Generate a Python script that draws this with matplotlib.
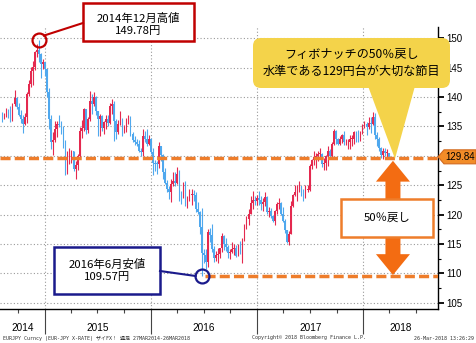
import pandas as pd
import matplotlib
matplotlib.use("Agg")
import matplotlib.pyplot as plt
import matplotlib.dates as mdates
from matplotlib.patches import Rectangle, Polygon, FancyBboxPatch, FancyArrowPatch, ArrowStyle

W, H = 477, 343
JP = ["Noto Sans CJK JP", "DejaVu Sans"]
NUM = ["Liberation Sans", "DejaVu Sans"]
MONO = ["DejaVu Sans Mono", "Noto Sans CJK JP"]

# EUR/JPY weekly bars (week ending Friday)
week_end = pd.date_range("2014-08-08", "2018-03-30", freq="W-FRI")
first_open = 137.0
closes = [
    136.6, 136.8, 137.7, 136.9, 136.0, 138.8, 139.8, 138.3, 137.0, 136.3,
    135.5, 136.6, 140.6, 142.3, 144.4, 145.2, 147.6, 148.0, 147.3, 145.7,
    146.0,
    # 2015
    144.8, 140.9, 136.3, 132.3, 132.7, 134.5, 135.5, 135.3, 134.2, 131.6,
    127.7, 129.6, 130.6, 130.8, 127.8, 128.5, 129.9, 134.3, 134.7, 137.9,
    134.4, 136.3, 139.3, 138.9, 140.1, 137.6, 136.3, 136.7, 134.7, 135.7,
    136.3, 135.6, 138.5, 138.9, 136.0, 134.0, 135.5, 135.8, 134.1, 134.7,
    135.7, 135.9, 133.7, 132.7, 132.3, 132.1, 130.9, 130.6, 133.4, 132.9,
    132.0, 132.8,
    # 2016
    130.6, 128.8, 128.7, 128.6, 131.6, 130.2, 127.3, 125.4, 124.3, 123.8,
    125.3, 125.7, 125.4, 126.9, 123.3, 122.9, 124.5, 121.7, 122.7, 123.3,
    123.6, 123.4, 120.9, 120.5, 117.9, 113.4, 113.1, 111.9, 117.0, 116.5,
    114.1, 112.7, 113.2, 113.3, 114.3, 116.4, 115.0, 114.5, 113.4, 113.7,
    114.1, 114.3, 113.0, 114.8, 114.3, 115.6, 117.9, 119.3, 120.2, 122.0,
    122.5, 122.3, 122.9,
    # 2017
    122.5, 121.8, 122.2, 123.0, 120.5, 120.6, 119.8, 118.9, 120.6, 121.9,
    122.0, 120.2, 118.9, 117.4, 115.4, 116.7, 121.4, 123.3, 123.8, 124.6,
    124.8, 124.0, 123.6, 124.2, 124.2, 128.3, 129.3, 129.8, 130.0, 130.3,
    130.3, 128.7, 128.8, 129.9, 130.9, 129.9, 132.1, 134.3, 132.9, 132.0,
    132.9, 133.5, 132.3, 132.3, 132.3, 132.9, 132.9, 134.0, 132.8, 132.6,
    134.1, 135.2,
    # 2018
    135.5, 134.9, 135.6, 135.5, 136.6, 133.5, 132.9, 131.4, 130.2, 130.8,
    130.5, 130.5, 129.84,
]
highs = [
    137.5, 137.3, 138.1, 137.9, 138.5, 139.0, 141.2, 140.0, 139.0, 137.8,
    137.0, 137.3, 140.9, 142.9, 145.1, 146.1, 147.9, 149.0, 149.78, 147.5,
    146.5,
    146.0, 144.8, 141.6, 137.0, 134.0, 135.9, 136.0, 136.9, 136.0, 135.0,
    132.7, 130.9, 131.3, 131.0, 130.9, 129.1, 130.3, 134.9, 136.1, 138.2,
    138.0, 136.6, 141.0, 140.6, 140.9, 140.2, 137.7, 137.1, 137.0, 136.0,
    136.9, 136.9, 139.0, 139.6, 139.4, 136.2, 136.1, 137.6, 136.4, 135.2,
    136.5, 137.0, 136.8, 134.0, 133.4, 132.9, 132.7, 131.3, 134.5, 134.2,
    134.5, 133.5,
    133.0, 131.3, 129.3, 129.2, 132.3, 131.7, 130.3, 127.9, 125.9, 124.8,
    126.1, 127.3, 127.3, 128.1, 127.6, 124.0, 125.5, 125.7, 123.1, 124.3,
    124.3, 124.2, 123.9, 122.1, 120.6, 121.1, 114.2, 114.1, 117.5, 117.8,
    118.5, 114.6, 113.9, 114.3, 114.4, 116.9, 116.6, 116.0, 114.8, 114.1,
    115.4, 115.0, 114.9, 115.0, 115.5, 116.1, 118.5, 119.8, 121.0, 123.2,
    124.1, 123.1, 123.4,
    124.0, 123.2, 122.9, 123.8, 123.2, 121.3, 121.2, 120.0, 120.8, 122.2,
    122.9, 122.1, 121.3, 119.2, 117.4, 117.3, 122.3, 123.6, 125.0, 125.0,
    125.8, 124.9, 124.4, 125.0, 125.0, 128.6, 129.5, 130.8, 130.5, 130.8,
    131.4, 130.5, 129.6, 130.1, 131.7, 131.2, 132.3, 134.5, 134.4, 133.0,
    133.4, 133.8, 134.3, 132.9, 132.8, 133.5, 133.6, 134.3, 134.2, 134.4,
    134.2, 135.5,
    136.0, 135.7, 136.6, 136.6, 137.5, 137.3, 134.1, 133.2, 131.5, 131.4,
    131.3, 131.2, 130.5,
]
lows = [
    135.7, 136.2, 136.6, 136.5, 135.7, 135.9, 138.5, 137.9, 136.8, 135.6,
    133.9, 135.3, 135.6, 140.2, 141.8, 142.0, 144.6, 146.8, 146.0, 143.3,
    144.8,
    143.6, 140.0, 134.5, 131.2, 130.1, 132.4, 133.2, 134.9, 133.7, 131.3,
    126.7, 127.0, 128.6, 128.8, 127.4, 126.1, 127.6, 129.8, 133.0, 134.2,
    133.8, 133.9, 135.9, 137.1, 138.4, 137.0, 133.3, 133.4, 134.3, 133.8,
    134.6, 135.0, 135.4, 137.2, 132.5, 132.9, 133.8, 135.3, 133.3, 133.9,
    134.1, 135.4, 133.3, 132.3, 131.9, 131.6, 130.6, 130.0, 130.0, 132.3,
    131.6, 131.9,
    130.3, 126.7, 127.4, 126.9, 127.9, 129.2, 126.0, 125.3, 123.9, 122.6,
    122.2, 124.9, 124.9, 125.3, 122.3, 121.9, 122.8, 121.4, 121.1, 122.4,
    121.6, 122.3, 120.5, 120.1, 116.8, 109.57, 111.8, 110.7, 111.1, 115.4,
    113.6, 112.0, 112.2, 111.7, 112.6, 113.7, 114.0, 113.9, 112.6, 112.5,
    113.5, 113.2, 112.8, 112.9, 113.3, 111.8, 115.5, 117.6, 118.2, 120.1,
    121.0, 121.7, 121.6,
    121.6, 120.8, 120.7, 121.4, 120.1, 119.6, 119.4, 118.7, 118.3, 120.2,
    120.9, 119.9, 118.7, 116.9, 115.2, 114.9, 116.7, 121.3, 123.2, 122.4,
    123.8, 123.1, 122.4, 122.8, 123.8, 124.1, 127.8, 128.4, 128.0, 129.1,
    129.5, 128.1, 127.6, 127.6, 128.3, 129.4, 129.5, 131.9, 132.0, 131.8,
    131.9, 132.2, 131.9, 131.9, 131.2, 131.2, 131.6, 132.1, 132.4, 132.3,
    132.5, 133.8,
    134.7, 133.6, 134.5, 133.9, 135.2, 132.9, 131.6, 130.9, 129.6, 129.4,
    130.0, 129.6, 129.6,
]
opens = [first_open] + closes[:-1]

y_ticks = [105, 110, 115, 120, 125, 130, 135, 140, 145, 150]
years = [2014, 2015, 2016, 2017, 2018]

high_label = "2014年12月高値\n149.78円"
low_label = "2016年6月安値\n109.57円"
callout_text = "フィボナッチの50％戻し\n水準である129円台が大切な節目"
half_text = "50％戻し"
footer_left = "EURJPY Curncy (EUR-JPY X-RATE) ザイFX！ 週足 27MAR2014-26MAR2018"
footer_mid = "Copyright© 2018 Bloomberg Finance L.P."
footer_right = "26-Mar-2018 13:26:29"

UP, DOWN = "#E4294F", "#4FA8EE"
ORANGE_LINE = "#EE7D2B"
ORANGE_ARROW = "#F36C12"
GRID = "#9a9a9a"
DASH = (0, (2.9, 1.2))

fig = plt.figure(figsize=(W / 100, H / 100), dpi=100)
ax = fig.add_axes([0, 34 / H, 438 / W, 282 / H])

x = mdates.date2num(week_end)
x_left = mdates.date2num(pd.Timestamp("2014-07-31"))
x_right = mdates.date2num(pd.Timestamp("2018-09-15"))
ax.set_xlim(x_left, x_right)
ax.set_ylim(103.96, 151.92)

# candles
for xi, o, h, l, c in zip(x, opens, highs, lows, closes):
    col = UP if c >= o else DOWN
    ax.vlines(xi, l, h, color=col, lw=0.8, zorder=3)
    ax.bar(xi, max(abs(c - o), 0.12), bottom=min(o, c), width=5.5,
           color=col, lw=0, zorder=3)

# last price tag covers the nearest scale label
last_close = closes[-1]
tick_text = [str(v) if abs(v - last_close) > 1.5 else "" for v in y_ticks]

# axes styling
for s in ("left", "top"):
    ax.spines[s].set_visible(False)
ax.spines["right"].set_linewidth(1.0)
ax.spines["bottom"].set_linewidth(1.0)
ax.yaxis.tick_right()
ax.set_yticks(y_ticks, tick_text)
ax.set_yticks([v + 2.5 for v in y_ticks[:-1]], minor=True)
ax.tick_params(axis="y", which="major", length=4, width=1.3, pad=2, labelsize=7)
ax.tick_params(axis="y", which="minor", length=2.5, width=0.8)
for lab in ax.get_yticklabels():
    lab.set_fontfamily(NUM)

year_starts = [mdates.date2num(pd.Timestamp(f"{y}-01-01")) for y in years[1:]]
quarters = [mdates.date2num(d) for d in pd.date_range("2014-10-01", "2018-07-01", freq="QS")
            if d.month != 1]
ax.set_xticks(year_starts)
ax.set_xticks(quarters, minor=True)
ax.tick_params(axis="x", which="major", length=18, width=0.8, color="#444444", labelbottom=False)
ax.tick_params(axis="x", which="minor", length=3, width=0.8, color="#444444")
ax.grid(axis="both", which="major", color=GRID, linestyle=(0, (1, 2)), lw=0.8, zorder=0)

# year labels centred on the visible part of each year
for y in years:
    a = max(mdates.date2num(pd.Timestamp(f"{y}-01-01")), x_left)
    b = min(mdates.date2num(pd.Timestamp(f"{y + 1}-01-01")), x_right)
    px = ax.transData.transform(((a + b) / 2, 0))[0]
    fig.text(px / W, 1 - 328 / H, str(y), ha="center", va="center",
             fontsize=7.2, family=NUM)

# key levels
i_hi = highs.index(max(highs))
i_lo = lows.index(min(lows))
peak, trough = highs[i_hi], lows[i_lo]
fib_level = (peak + trough) / 2
arrow_x = x[-1] + 14

ax.plot([x_left, x_right], [fib_level, fib_level], color=ORANGE_LINE, lw=2.5,
        linestyle=DASH, zorder=4)
ax.plot([x[i_lo] + 10, x_right], [trough, trough], color=ORANGE_LINE, lw=2.5,
        linestyle=DASH, zorder=4)
ax.plot(x[i_hi], peak, "o", ms=10, mfc="none", mec="#C00000", mew=1.6, zorder=5, clip_on=False)
ax.plot(x[i_lo], trough, "o", ms=10, mfc="none", mec="#1A1A8C", mew=1.6, zorder=5, clip_on=False)

# overlay in pixel coordinates for the callouts
ov = fig.add_axes([0, 0, 1, 1], zorder=5)
ov.set_xlim(0, W)
ov.set_ylim(H, 0)
ov.axis("off")
ov.patch.set_alpha(0)


def to_px(xv, yv):
    dx, dy = ax.transData.transform((xv, yv))
    return dx, H - dy


# high callout
hx, hy = to_px(x[i_hi], peak)
ov.plot([hx + 5, 83], [hy - 4, 23], color="#C00000", lw=1.5)
ov.add_patch(Rectangle((83, 3), 111, 38, fc="white", ec="#C00000", lw=1.8))
ov.text(138.5, 24.5, high_label, ha="center", va="center", fontsize=8.2,
        family=JP, linespacing=1.35)

# low callout
lx, ly = to_px(x[i_lo], trough)
ov.plot([160, lx - 6], [271, ly], color="#1A1A8C", lw=1.5)
ov.add_patch(Rectangle((54, 247), 106, 47, fc="white", ec="#1A1A8C", lw=1.8))
ov.text(107, 270.5, low_label, ha="center", va="center", fontsize=8.2,
        family=JP, linespacing=1.3)

# yellow speech bubble pointing at the 50% level
tx, ty = to_px(arrow_x + 7, fib_level)
ov.add_patch(Polygon([(368, 86), (415, 86), (tx, ty + 1)], closed=True,
                     fc="#F4D34A", ec="none"))
ov.add_patch(FancyBboxPatch((253, 38), 197, 50, boxstyle="round,pad=0,rounding_size=8",
                            fc="#F4D34A", ec="none"))
ov.text(351.5, 63, callout_text, ha="center", va="center", fontsize=8.7,
        family=JP, linespacing=1.45)

# double arrow between the two levels
ax_px, top_y = to_px(arrow_x, fib_level)
_, bot_y = to_px(arrow_x, trough)
mid_y = (top_y + bot_y) / 2
style = ArrowStyle.Simple(head_length=15, head_width=24.5, tail_width=10.8)
for end_y in (top_y + 3, bot_y - 1):
    ov.add_patch(FancyArrowPatch((ax_px, mid_y), (ax_px, end_y), arrowstyle=style,
                                 mutation_scale=1, fc=ORANGE_ARROW, ec="none",
                                 shrinkA=0, shrinkB=0))
ov.add_patch(Rectangle((341, 199), 92, 38, fc="white", ec=ORANGE_LINE, lw=1.8))
ov.text(387, 218, half_text, ha="center", va="center", fontsize=8.2, family=JP)

# last price tag on the price scale
_, cy = to_px(x[-1], last_close)
ov.add_patch(Polygon([(438, cy), (444, cy - 7), (476, cy - 7), (476, cy + 7), (444, cy + 7)],
                     closed=True, fc="#F28C28", ec="#D2691E", lw=0.8))
ov.text(460, cy, f"{last_close:.2f}", ha="center", va="center", fontsize=7, family=NUM)

# footer
ov.text(3, 338, footer_left, ha="left", va="center", fontsize=3.6, family=MONO, color="#333333")
ov.text(252, 338, footer_mid, ha="left", va="center", fontsize=3.6, family=MONO, color="#333333")
ov.text(474, 338, footer_right, ha="right", va="center", fontsize=3.6, family=MONO, color="#333333")

fig.savefig("out.png", dpi=100)
